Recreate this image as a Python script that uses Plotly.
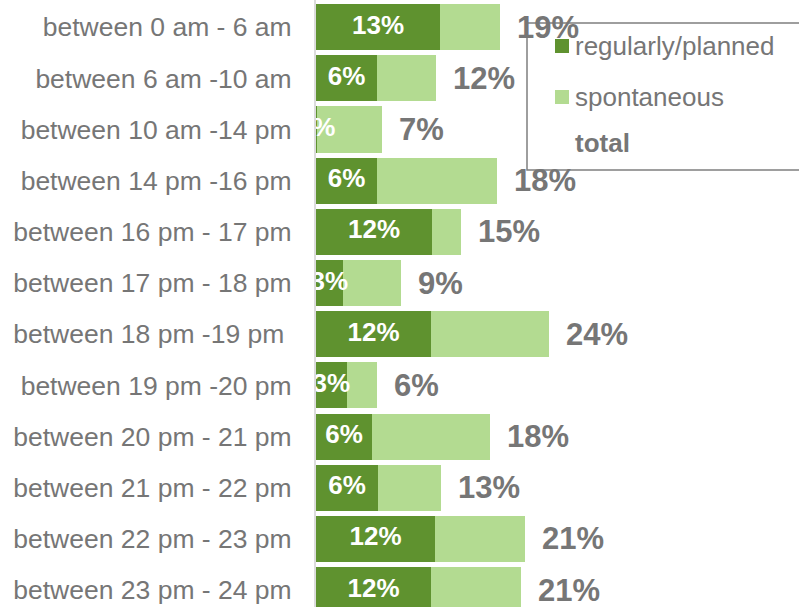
import plotly.graph_objects as go

# Time slots, top to bottom
slots = [
    "between 0 am - 6 am",
    "between 6 am -10 am",
    "between 10 am -14 pm",
    "between 14 pm -16 pm",
    "between 16 pm - 17 pm",
    "between 17 pm - 18 pm",
    "between 18 pm -19 pm ",
    "between 19 pm -20 pm",
    "between 20 pm - 21 pm",
    "between 21 pm - 22 pm",
    "between 22 pm - 23 pm",
    "between 23 pm - 24 pm",
]

# Share of respondents (%)
regular = [12.6, 6.2, 0.1, 6.2, 11.8, 2.7, 11.7, 3.1, 5.7, 6.3, 12.1, 11.7]
spontaneous = [6.1, 6.0, 6.6, 12.2, 2.9, 5.9, 12.0, 3.1, 12.0, 6.4, 9.1, 9.1]
total = [r + s for r, s in zip(regular, spontaneous)]

DARK = "#5f922f"
LIGHT = "#b3db91"
GREY = "#767676"
FONT = "Liberation Sans, Arial, sans-serif"

fig = go.Figure()
fig.add_trace(go.Bar(
    y=slots, x=regular, orientation="h", name="regularly/planned",
    marker=dict(color=DARK, line=dict(width=0)),
    textposition="none", showlegend=False, hoverinfo="x+y",
))
fig.add_trace(go.Bar(
    y=slots, x=spontaneous, orientation="h", name="spontaneous",
    marker=dict(color=LIGHT, line=dict(width=0)),
    textposition="none", showlegend=False, hoverinfo="x+y",
))

# Values of the dark segments, centred on each segment (clipped to the plot area)
fig.add_trace(go.Scatter(
    y=slots, x=[r / 2 for r in regular], mode="text",
    text=[f"{r:.0f}%" for r in regular], textposition="middle center",
    textfont=dict(family=FONT, size=26, color="white", weight="bold"),
    cliponaxis=True, showlegend=False, hoverinfo="skip",
))

# Total labels to the right of each bar
for cat, t in zip(slots, total):
    fig.add_annotation(
        x=t, y=cat, xref="x", yref="y", text=f"{t:.0f}%",
        xanchor="left", yanchor="middle", xshift=15, showarrow=False,
        font=dict(family=FONT, size=31, color=GREY, weight="bold"),
    )

# Legend panel
W_PLOT = 799 - 316
H_PLOT = 607


def px(xp):
    return (xp - 316) / W_PLOT


def py(yp):
    return 1 - yp / H_PLOT


fig.add_shape(type="rect", xref="paper", yref="paper",
              x0=px(527), x1=px(840), y0=py(170), y1=py(23),
              line=dict(color="#7f7f7f", width=1.5), fillcolor="rgba(0,0,0,0)")
legend_items = [("regularly/planned", DARK, 46, False),
                ("spontaneous", LIGHT, 97, False),
                ("total", None, 143, True)]
for label, col, yc, bold in legend_items:
    if col:
        fig.add_shape(type="rect", xref="paper", yref="paper",
                      x0=px(555), x1=px(569), y0=py(yc + 7), y1=py(yc - 7),
                      line=dict(width=0), fillcolor=col)
    fig.add_annotation(
        x=px(573), y=py(yc), xref="paper", yref="paper", text=label,
        xanchor="left", yanchor="middle", showarrow=False,
        font=dict(family=FONT, size=26, color=GREY,
                  weight="bold" if bold else "normal"),
    )

fig.update_layout(
    width=799, height=607,
    margin=dict(l=316, r=0, t=0, b=0),
    barmode="stack", bargap=0.1,
    plot_bgcolor="white", paper_bgcolor="white",
    font=dict(family=FONT, color=GREY),
)
fig.update_xaxes(range=[0, W_PLOT / 9.85], showgrid=False, zeroline=False,
                 showticklabels=False, showline=False, fixedrange=True)
fig.update_yaxes(
    type="category", categoryorder="array", categoryarray=slots,
    range=[11.33, -0.53], showgrid=False, zeroline=False,
    showline=True, linecolor="#dcdcdc", linewidth=2,
    ticks="", ticklabelstandoff=17,
    tickfont=dict(family=FONT, size=26.5, color=GREY),
)

fig.write_html("out.html")
